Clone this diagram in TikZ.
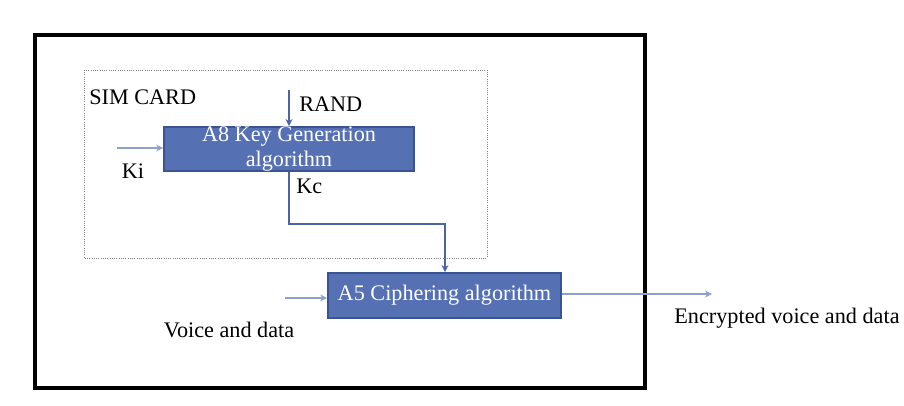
\documentclass[tikz,border=0pt]{standalone}
\usepackage{fontspec}
\setmainfont{Liberation Serif}
\usetikzlibrary{arrows.meta}
\definecolor{boxblue}{RGB}{86,112,180}
\definecolor{edgeblue}{RGB}{58,84,146}
\definecolor{linkblue}{RGB}{74,100,166}
\definecolor{paleblue}{RGB}{142,160,206}
\tikzset{
  algobox/.style={draw=edgeblue, line width=1.2pt, fill=boxblue, text=white, inner sep=0pt, font=\fontsize{15.8}{17.5}\selectfont},
  label/.style={font=\fontsize{15.8}{17.5}\selectfont, inner sep=0pt},
  strong/.style={draw=linkblue, line width=1.7pt, -{Stealth[length=5pt,width=5pt]}},
  pale/.style={draw=paleblue, line width=1.4pt, -{Stealth[length=5pt,width=5pt]}}
}
\begin{document}
\begin{tikzpicture}[x=0.025cm, y=-0.025cm]
\useasboundingbox (0,0) rectangle (904,406);
\draw[line width=2.2pt] (35,35) rectangle (645,388);
\draw[gray, densely dotted, line width=0.6pt] (84,70) rectangle (487,258);
\node[label, anchor=west] (sim) at (89,97) {SIM CARD};
\node[algobox, minimum width=250*0.025cm, minimum height=42*0.025cm, align=center] (a8) at (289,149) {A8 Key Generation\\algorithm};
\node[algobox, minimum width=233*0.025cm, minimum height=45*0.025cm] (a5) at (444.5,295.5) {A5 Ciphering algorithm};
\coordinate (randin) at (289,90);
\coordinate (kiin) at (117,148);
\coordinate (vdin) at (285,298);
\coordinate (out) at (712,294);
\coordinate (bend) at (445,224);
\draw[strong] (randin) -- (a8.north);
\node[label, anchor=west] (rand) at (299,104) {RAND};
\draw[pale] (kiin) -- (a8.west |- kiin);
\node[label] (ki) at (133,171) {Ki};
\draw[strong] (a8.south) |- (bend) -- (a5.north -| bend);
\node[label, anchor=west] (kc) at (296,186) {Kc};
\draw[pale] (vdin) -- (a5.west |- vdin);
\node[label] (vd) at (229,330) {Voice and data};
\draw[pale] (a5.east |- out) -- (out);
\node[label] (enc) at (787,318) {Encrypted voice and data};
\end{tikzpicture}
\end{document}
